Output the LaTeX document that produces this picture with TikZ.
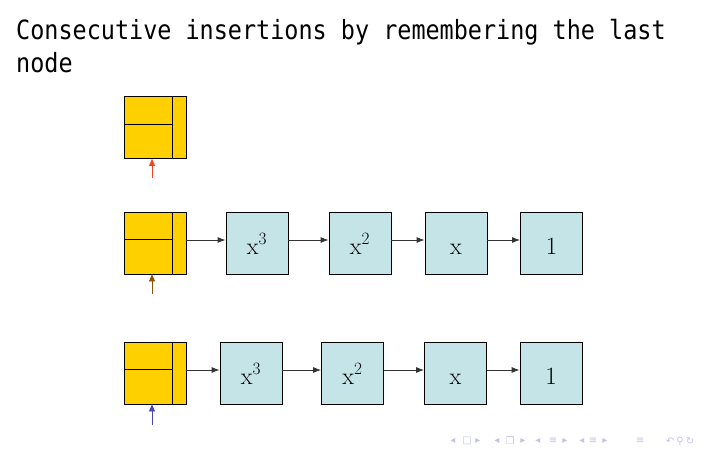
\documentclass[tikz,border=0pt]{standalone}
\usepackage{fontspec}
\usepackage{tikz}
\usetikzlibrary{arrows.meta}
\newfontfamily\titlefont[FakeStretch=0.885]{DejaVu Sans Mono}
\newfontfamily\navfont{DejaVu Sans}
\definecolor{headyellow}{RGB}{255,208,0}
\definecolor{termblue}{RGB}{196,228,232}
\definecolor{ptrred}{RGB}{240,70,30}
\definecolor{ptrbrown}{RGB}{140,80,10}
\definecolor{ptrblue}{RGB}{70,70,180}
\definecolor{navsym}{RGB}{195,195,232}

\begin{document}
\begin{tikzpicture}[x=1pt,y=-1pt,
  title/.style={inner sep=0pt, font=\titlefont\fontsize{26.5}{30}\selectfont},
  headbox/.style={draw=black, line width=0.8pt, fill=headyellow, minimum width=62pt, minimum height=62pt, inner sep=0pt},
  termbox/.style={draw=black, line width=0.8pt, fill=termblue, minimum width=62pt, minimum height=62pt, inner sep=0pt, text height=22pt, text depth=0pt, font=\fontsize{24}{28}\selectfont},
  link/.style={draw=black!80, line width=0.8pt, -{Latex[length=8pt,width=6pt]}},
  ptr/.style={line width=0.7pt, -{Triangle[length=7pt,width=6pt]}},
  nav/.style={inner sep=0pt, text=navsym, font=\navfont\fontsize{10}{10}\selectfont}
]
\useasboundingbox (0,0) rectangle (705,453);

% title
\node[title, anchor=base west] (title1) at (16,39) {Consecutive insertions by remembering the last};
\node[title, anchor=base west] (title2) at (16,72) {node};

% empty list
\node[headbox] (head1) at (155,127.5) {};
\draw[line width=0.8pt] ([xshift=-14pt]head1.north east) -- ([xshift=-14pt]head1.south east);
\draw[line width=0.8pt] ([yshift=-28pt]head1.north west) -- ([xshift=-14pt,yshift=-28pt]head1.north east);
\coordinate (last1) at (152,178);
\draw[ptr, ptrred] (last1) -- ([xshift=-3pt]head1.south);

% list after the insertions
\node[headbox] (head2) at (155,243) {};
\draw[line width=0.8pt] ([xshift=-14pt]head2.north east) -- ([xshift=-14pt]head2.south east);
\draw[line width=0.8pt] ([yshift=-28pt]head2.north west) -- ([xshift=-14pt,yshift=-28pt]head2.north east);
\node[termbox] (a3) at (257,243) {$\mathrm{x}^3$};
\node[termbox] (a2) at (360,243) {$\mathrm{x}^2$};
\node[termbox] (a1) at (456,243) {$\mathrm{x}$};
\node[termbox] (a0) at (551.5,243) {$1$};
\draw[link] ([yshift=3pt]head2.east) -- ([yshift=3pt]a3.west);
\draw[link] ([yshift=3pt]a3.east) -- ([yshift=3pt]a2.west);
\draw[link] ([yshift=3pt]a2.east) -- ([yshift=3pt]a1.west);
\draw[link] ([yshift=3pt]a1.east) -- ([yshift=3pt]a0.west);
\coordinate (last2) at (152,294);
\draw[ptr, ptrbrown] (last2) -- ([xshift=-3pt]head2.south);

% same list, pointer kept on the head
\node[headbox] (head3) at (155,373) {};
\draw[line width=0.8pt] ([xshift=-14pt]head3.north east) -- ([xshift=-14pt]head3.south east);
\draw[line width=0.8pt] ([yshift=-28pt]head3.north west) -- ([xshift=-14pt,yshift=-28pt]head3.north east);
\node[termbox] (b3) at (251,373) {$\mathrm{x}^3$};
\node[termbox] (b2) at (352.5,373) {$\mathrm{x}^2$};
\node[termbox] (b1) at (455.5,373) {$\mathrm{x}$};
\node[termbox] (b0) at (551,373) {$1$};
\draw[link] ([yshift=3pt]head3.east) -- ([yshift=3pt]b3.west);
\draw[link] ([yshift=3pt]b3.east) -- ([yshift=3pt]b2.west);
\draw[link] ([yshift=3pt]b2.east) -- ([yshift=3pt]b1.west);
\draw[link] ([yshift=3pt]b1.east) -- ([yshift=3pt]b0.west);
\coordinate (last3) at (152,425);
\draw[ptr, ptrblue] (last3) -- ([xshift=-3pt]head3.south);

% navigation symbols
\foreach \x/\s [count=\i] in {453/◂, 467/□, 478/▸, 497/◂, 510/❐, 523/▸, 538/◂, 553/≡, 565/▸, 582/◂, 593/≡, 605/▸, 640/≡, 670/↶, 680/⚲, 690/↻}
  \node[nav] (nav\i) at (\x,441) {\s};
\end{tikzpicture}
\end{document}
